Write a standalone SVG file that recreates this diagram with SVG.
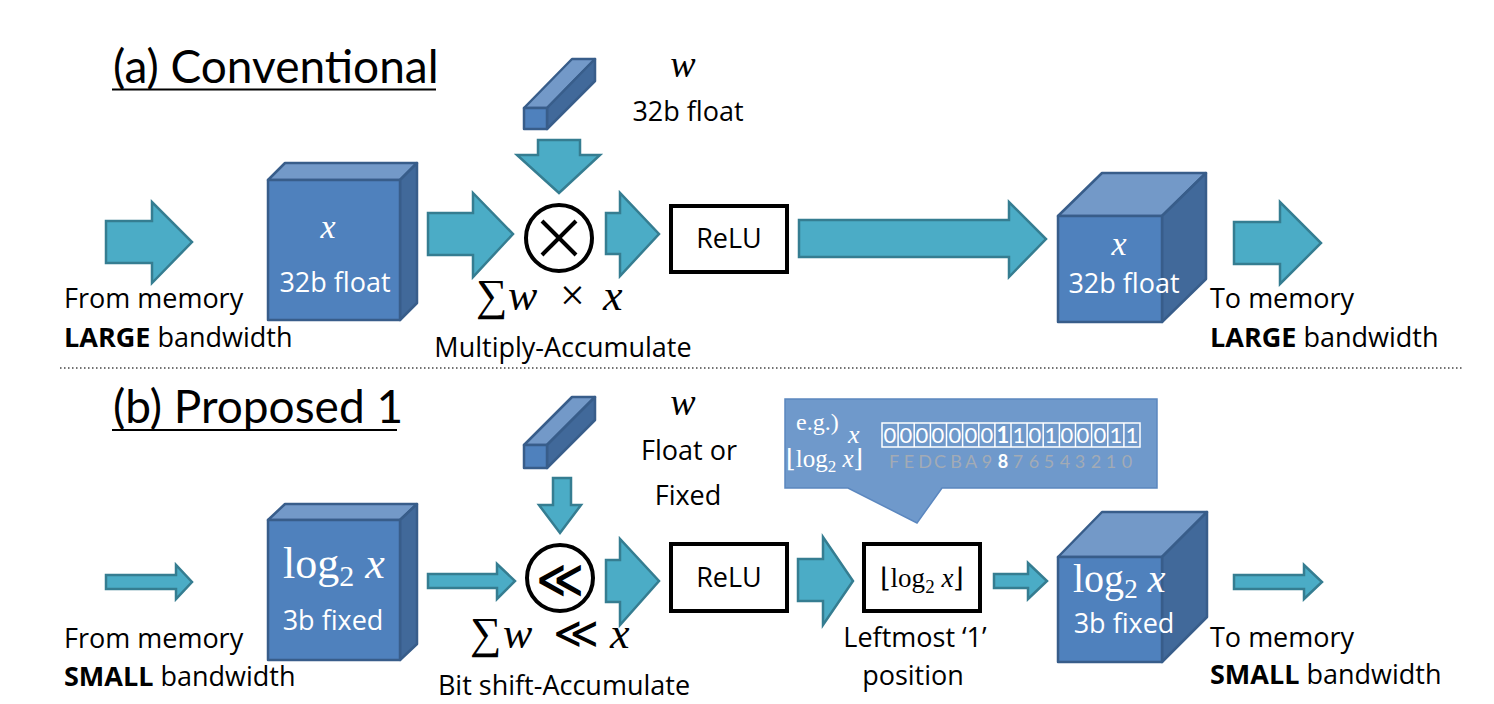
<svg xmlns="http://www.w3.org/2000/svg" width="1494" height="704" viewBox="0 0 1494 704">
<style>
.arr{fill:#4bacc6;stroke:#357d91;stroke-width:2.5;stroke-linejoin:miter}
.front{fill:#4f81bd;stroke:#385d8a;stroke-width:2.5;stroke-linejoin:round}
.top{fill:#7399c8;stroke:#385d8a;stroke-width:2.5;stroke-linejoin:round}
.side{fill:#41699a;stroke:#385d8a;stroke-width:2.5;stroke-linejoin:round}
.lbl{font-family:"Open Sans",Lato,sans-serif;font-size:27px;fill:#000}
.wl{font-family:"Open Sans",Lato,sans-serif;font-size:27px;fill:#fff}
.ttl{font-family:Lato,"Open Sans",sans-serif;font-size:46px;fill:#000}
.m{font-family:"Liberation Serif","DejaVu Serif",serif}
.box{fill:#fff;stroke:#000;stroke-width:4}
</style>

<g id="titles">
<text class="ttl" x="113" y="83">(a) Conventional</text>
<line x1="112" y1="89.5" x2="436" y2="89.5" stroke="#000" stroke-width="2"/>
<text class="ttl" x="113" y="423">(b) Proposed 1</text>
<line x1="112" y1="430" x2="397" y2="430" stroke="#000" stroke-width="2"/>
<line x1="60" y1="368" x2="1463" y2="368" stroke="#444" stroke-width="1.5" stroke-dasharray="1.5 2.5"/>
</g>

<g id="connectors">
<polygon class="arr" points="106,221 152,221 152,202 192,242 152,283 152,263 106,263"/>
<polygon class="arr" points="428,213 473,213 473,193 513,234 473,277 473,255 428,255"/>
<polygon class="arr" points="538,140 580,140 580,155 600,155 559,193 517,155 538,155"/>
<polygon class="arr" points="606,213 620,213 620,193 659,234 620,276 620,254 606,254"/>
<polygon class="arr" points="799,220 1009,220 1009,202 1046,239 1009,277 1009,257 799,257"/>
<polygon class="arr" points="1234,222 1280,222 1280,202 1321,243 1280,284 1280,264 1234,264"/>

<polygon class="arr" points="106,575 176,575 176,565 192,582 176,599 176,589 106,589"/>
<polygon class="arr" points="428,574 497,574 497,564 515,581 497,599 497,588 428,588"/>
<polygon class="arr" points="553,478 571,478 571,505 581,505 560,533 539,505 553,505"/>
<polygon class="arr" points="606,560 620,560 620,539 659,581 620,625 620,602 606,602"/>
<polygon class="arr" points="798,559 823,559 823,537 853,581 823,625 823,601 798,601"/>
<polygon class="arr" points="994,574 1028,574 1028,563 1047,581 1028,599 1028,588 994,588"/>
<polygon class="arr" points="1234,575 1304,575 1304,565 1322,582 1304,599 1304,589 1234,589"/>
</g>

<g id="cube-a-in">
<polygon class="top" points="268,180 285,163 417,163 400,180"/>
<polygon class="side" points="400,180 417,163 417,303 400,320"/>
<rect class="front" x="268" y="180" width="132" height="140"/>
<text class="m" x="328" y="238" font-size="34" font-style="italic" fill="#fff" text-anchor="middle">x</text>
<text class="wl" x="335" y="292" font-size="28" text-anchor="middle">32b float</text>
</g>

<g id="w-a">
<polygon class="top" points="524,108 572,59 595,59 547,108"/>
<polygon class="side" points="547,108 595,59 595,81 547,129"/>
<rect class="front" x="524" y="108" width="23" height="21"/>
<text class="m" x="683" y="77" font-size="38" font-style="italic" text-anchor="middle">w</text>
<text class="lbl" x="688" y="121" font-size="32" text-anchor="middle">32b float</text>
</g>

<g id="mac">
<circle cx="559" cy="238" r="33" fill="#fff" stroke="#000" stroke-width="4"/>
<line x1="542" y1="221" x2="576" y2="255" stroke="#000" stroke-width="4"/>
<line x1="576" y1="221" x2="542" y2="255" stroke="#000" stroke-width="4"/>
<text class="m" font-size="44" y="310"><tspan x="476">∑</tspan><tspan x="508" font-style="italic">w</tspan><tspan x="560">×</tspan><tspan x="603" font-style="italic">x</tspan></text>
<text class="lbl" x="563" y="357" font-size="28" text-anchor="middle">Multiply-Accumulate</text>
</g>

<g id="relu-a">
<rect class="box" x="671" y="206" width="116" height="66"/>
<text class="lbl" x="729" y="248" font-size="26" text-anchor="middle">ReLU</text>
</g>

<g id="cube-a-out">
<polygon class="top" points="1058,216 1102,173 1206,173 1162,216"/>
<polygon class="side" points="1162,216 1206,173 1206,279 1162,322"/>
<rect class="front" x="1058" y="216" width="104" height="106"/>
<text class="m" x="1119" y="255" font-size="34" font-style="italic" fill="#fff" text-anchor="middle">x</text>
<text class="wl" x="1124" y="293" font-size="28" text-anchor="middle">32b float</text>
</g>

<g id="mem-a">
<text class="lbl" x="64" y="308">From memory</text>
<text class="lbl" x="64" y="347"><tspan font-weight="bold">LARGE</tspan> bandwidth</text>
<text class="lbl" x="1210" y="308">To memory</text>
<text class="lbl" x="1210" y="347"><tspan font-weight="bold">LARGE</tspan> bandwidth</text>
</g>

<g id="cube-b-in">
<polygon class="top" points="268,520 285,504 417,504 400,520"/>
<polygon class="side" points="400,520 417,504 417,644 400,660"/>
<rect class="front" x="268" y="520" width="132" height="140"/>
<text class="m" x="283" y="578" font-size="44" fill="#fff">log<tspan font-size="30" dy="8">2</tspan><tspan dy="-8" font-style="italic"> x</tspan></text>
<text class="wl" x="333" y="630" font-size="28" text-anchor="middle">3b fixed</text>
</g>

<g id="w-b">
<polygon class="top" points="524,445 572,397 595,397 547,445"/>
<polygon class="side" points="547,445 595,397 595,420 547,468"/>
<rect class="front" x="524" y="445" width="23" height="23"/>
<text class="m" x="683" y="415" font-size="38" font-style="italic" text-anchor="middle">w</text>
<text class="lbl" x="689" y="460" font-size="32" text-anchor="middle">Float or</text>
<text class="lbl" x="688" y="505" font-size="32" text-anchor="middle">Fixed</text>
</g>

<g id="shift">
<circle cx="560" cy="578" r="33" fill="#fff" stroke="#000" stroke-width="4"/>
<text x="560" y="595" font-family="DejaVu Sans,sans-serif" font-weight="bold" font-size="46" text-anchor="middle">≪</text>
<text class="m" font-size="44" y="648"><tspan x="470">∑</tspan><tspan x="503" font-style="italic">w</tspan><tspan x="553">≪</tspan><tspan x="610" font-style="italic">x</tspan></text>
<text class="lbl" x="564" y="695" font-size="28" text-anchor="middle">Bit shift-Accumulate</text>
</g>

<g id="relu-b">
<rect class="box" x="671" y="544" width="116" height="67"/>
<text class="lbl" x="729" y="587" font-size="26" text-anchor="middle">ReLU</text>
</g>

<g id="callout">
<polygon points="785,399 1157,399 1157,488 942,488 917,523 848,488 785,488" fill="#6f99cb" stroke="#5b87bf" stroke-width="1.5"/>
<text class="m" x="796" y="430" font-size="24" fill="#fff">e.g.)</text>
<text class="m" x="848" y="443" font-size="26" font-style="italic" fill="#fff">x</text>
<text class="m" x="786" y="467" font-size="25" fill="#fff">⌊log<tspan font-size="17" dy="5">2</tspan><tspan dy="-5" font-style="italic"> x</tspan>⌋</text>
<g fill="none" stroke="#fff" stroke-width="1.5">
<rect x="882" y="423" width="258" height="24"/>
<path d="M898.1 423v24M914.2 423v24M930.4 423v24M946.5 423v24M962.6 423v24M978.8 423v24M994.9 423v24M1011 423v24M1027.1 423v24M1043.2 423v24M1059.4 423v24M1075.5 423v24M1091.6 423v24M1107.8 423v24M1123.9 423v24"/>
</g>
<g font-family="Lato,'Open Sans',sans-serif" font-size="22" fill="#fff" text-anchor="middle">
<text x="890" y="443">0</text><text x="906" y="443">0</text><text x="922" y="443">0</text><text x="938" y="443">0</text><text x="955" y="443">0</text><text x="971" y="443">0</text><text x="987" y="443">0</text><text x="1003" y="443" font-weight="bold">1</text><text x="1019" y="443">1</text><text x="1035" y="443">0</text><text x="1051" y="443">1</text><text x="1067" y="443">0</text><text x="1083" y="443">0</text><text x="1100" y="443">0</text><text x="1116" y="443">1</text><text x="1132" y="443">1</text>
</g>
<g font-family="Lato,'Open Sans',sans-serif" font-size="18" fill="#a3abb5" text-anchor="middle">
<text x="894" y="468">F</text><text x="909" y="468">E</text><text x="925" y="468">D</text><text x="940" y="468">C</text><text x="956" y="468">B</text><text x="971" y="468">A</text><text x="987" y="468">9</text><text x="1003" y="468" fill="#fff" font-weight="bold">8</text><text x="1018" y="468">7</text><text x="1034" y="468">6</text><text x="1049" y="468">5</text><text x="1065" y="468">4</text><text x="1080" y="468">3</text><text x="1096" y="468">2</text><text x="1111" y="468">1</text><text x="1127" y="468">0</text>
</g>
</g>

<g id="floor">
<rect class="box" x="864" y="544" width="116" height="67"/>
<text class="m" x="922" y="587" font-size="27" text-anchor="middle">⌊log<tspan font-size="19" dy="6">2</tspan><tspan dy="-6" font-style="italic"> x</tspan>⌋</text>
<text class="lbl" x="915" y="647" font-size="28" text-anchor="middle">Leftmost ‘1’</text>
<text class="lbl" x="913" y="685" font-size="28" text-anchor="middle">position</text>
</g>

<g id="cube-b-out">
<polygon class="top" points="1058,557 1102,512 1207,512 1162,557"/>
<polygon class="side" points="1162,557 1207,512 1207,617 1162,662"/>
<rect class="front" x="1058" y="557" width="104" height="105"/>
<text class="m" x="1073" y="592" font-size="40" fill="#fff">log<tspan font-size="27" dy="6">2</tspan><tspan dy="-6" font-style="italic"> x</tspan></text>
<text class="wl" x="1124" y="633" font-size="28" text-anchor="middle">3b fixed</text>
</g>

<g id="mem-b">
<text class="lbl" x="64" y="648">From memory</text>
<text class="lbl" x="64" y="686"><tspan font-weight="bold">SMALL</tspan> bandwidth</text>
<text class="lbl" x="1210" y="647">To memory</text>
<text class="lbl" x="1210" y="684"><tspan font-weight="bold">SMALL</tspan> bandwidth</text>
</g>
</svg>
